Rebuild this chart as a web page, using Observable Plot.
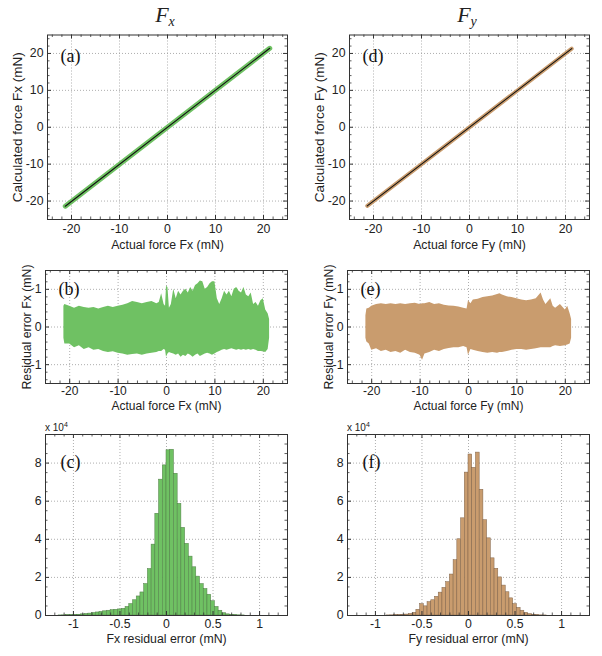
<!DOCTYPE html>
<html><head><meta charset="utf-8">
<script src="https://cdn.jsdelivr.net/npm/d3@7"></script>
<script src="https://cdn.jsdelivr.net/npm/@observablehq/plot@0.6"></script>
<style>
body{margin:0;background:#fff;}
#fig{position:relative;width:602px;height:656px;font-family:"Liberation Sans",Arial,sans-serif;color:#222;overflow:hidden;}
.p{position:absolute;}
.ttl{position:absolute;top:0;font-family:"Liberation Serif","Times New Roman",serif;font-style:italic;font-size:22px;line-height:30px;transform:translateX(-50%);white-space:nowrap;}
.ttl sub{font-size:14px;vertical-align:-4px;}
.sci{position:absolute;font-size:10px;line-height:12px;white-space:nowrap;}
.sci sup{font-size:7px;vertical-align:4px;}
</style></head><body><div id="fig"></div>
<script>
// ---------- data ----------
const colTitles = ["F", "F"], colSubs = ["x", "y"];
const tags = ["(a)", "(b)", "(c)", "(d)", "(e)", "(f)"];

// panels (a)/(d): fitted line (calculated vs actual force, mN)
const lineActual = [-21.3, 21.3];
const fxLineCalc = [-21.4, 21.4];
const fyLineCalc = [-21.3, 21.3];

// panels (b)/(e): envelope of residual error scatter (mN)
const fxResX = [-21.2,-21,-20,-19,-18,-17,-16,-15,-14,-13,-12,-11,-10,-9,-8,-7,-6,-5,-4,-3,-2,-1.5,-1,-0.5,-0.2,0,0.3,0.6,1,1.5,2,2.5,3,3.5,4,4.5,5,5.5,6,6.5,7,7.5,8,8.5,9,9.5,10,10.5,11,11.5,12,12.5,13,13.5,14,14.5,15,15.5,16,16.5,17,17.5,18,18.5,19,19.5,20,20.5,21,21.3];
const fxResHi = [0.55,0.6,0.55,0.5,0.55,0.52,0.5,0.52,0.48,0.52,0.55,0.52,0.55,0.58,0.62,0.68,0.65,0.62,0.65,0.68,0.62,0.65,0.88,0.6,0.55,1.08,1.05,0.5,0.6,1.0,0.75,0.95,0.85,0.95,1.0,0.9,1.05,0.95,1.1,1.15,1.22,1.2,1.0,1.05,1.15,1.2,1.2,0.75,0.6,0.75,0.95,0.85,0.95,0.8,1.0,1.05,0.95,0.9,1.05,0.85,0.8,0.9,0.6,0.65,0.55,0.7,0.75,0.45,0.35,0.2];
const fxResLo = [-0.3,-0.45,-0.45,-0.55,-0.5,-0.6,-0.55,-0.62,-0.6,-0.65,-0.68,-0.66,-0.7,-0.72,-0.75,-0.73,-0.72,-0.75,-0.72,-0.7,-0.68,-0.65,-0.65,-0.6,-0.62,-0.8,-0.72,-0.68,-0.7,-0.72,-0.75,-0.72,-0.8,-0.75,-0.78,-0.72,-0.75,-0.8,-0.75,-0.72,-0.78,-0.75,-0.72,-0.7,-0.72,-0.75,-0.72,-0.68,-0.65,-0.62,-0.6,-0.62,-0.6,-0.58,-0.6,-0.62,-0.6,-0.62,-0.6,-0.62,-0.6,-0.62,-0.6,-0.62,-0.65,-0.65,-0.66,-0.68,-0.6,-0.3];

const fyResX = [-21.2,-21,-20.5,-20,-19,-18,-17,-16,-15,-14,-13,-12,-11,-10,-9.5,-9,-8,-7,-6,-5,-4,-3,-2,-1,-0.3,0,0.5,1,2,3,4,5,6,6.5,7,8,9,10,11,12,13,14,15,15.5,16,17,17.5,18,19,20,20.5,21,21.3];
const fyResHi = [0.3,0.48,0.5,0.55,0.6,0.62,0.6,0.62,0.6,0.62,0.6,0.62,0.63,0.6,0.62,0.62,0.65,0.6,0.62,0.58,0.56,0.55,0.53,0.5,0.48,0.7,0.62,0.72,0.74,0.78,0.8,0.82,0.86,0.88,0.85,0.8,0.78,0.75,0.72,0.7,0.72,0.75,0.9,0.72,0.6,0.75,0.55,0.5,0.6,0.45,0.55,0.35,0.2];
const fyResLo = [-0.3,-0.4,-0.45,-0.62,-0.58,-0.65,-0.62,-0.68,-0.65,-0.7,-0.62,-0.68,-0.7,-0.75,-0.88,-0.72,-0.68,-0.62,-0.65,-0.6,-0.57,-0.55,-0.55,-0.52,-0.55,-0.75,-0.6,-0.62,-0.65,-0.68,-0.7,-0.68,-0.7,-0.68,-0.68,-0.65,-0.62,-0.6,-0.6,-0.62,-0.6,-0.58,-0.55,-0.55,-0.55,-0.55,-0.52,-0.5,-0.52,-0.5,-0.48,-0.45,-0.3];

// panels (c)/(f): histogram of residual error, counts x 10^4, bins of 0.04 mN starting at -1.20
const histStart = -1.2, histWidth = 0.04;
const fxCounts = [0,0.005,0.01,0.015,0.02,0.03,0.04,0.06,0.08,0.1,0.13,0.16,0.19,0.22,0.25,0.28,0.3,0.32,0.35,0.45,0.6,0.8,1.0,1.21,1.65,2.44,3.72,5.34,7.13,7.88,8.67,8.7,7.44,5.86,4.6,3.76,3.09,2.53,2.04,1.65,1.39,1.09,0.75,0.45,0.25,0.12,0.06,0.03,0.015,0.01,0.005,0,0,0,0,0,0,0,0,0];
const fyCounts = [0,0,0,0,0,0,0,0,0.005,0.01,0.015,0.02,0.03,0.05,0.08,0.14,0.3,0.6,0.48,0.7,0.8,0.98,1.2,1.45,1.75,2.15,2.9,4.0,5.1,7.5,8.45,7.75,8.55,6.6,5.0,4.05,3.0,2.45,2.0,1.57,1.22,0.9,0.6,0.4,0.25,0.14,0.07,0.035,0.015,0.008,0.004,0,0,0,0,0,0,0,0,0];

// axis ticks and labels
const forceTicks = [-20,-10,0,10,20];
const resTicks = [-1,0,1];
const errTicks = [-1,-0.5,0,0.5,1];
const countTicks = [0,2,4,6,8];
const xLabelsA = ["Actual force Fx (mN)", "Actual force Fy (mN)"];
const yLabelsA = ["Calculated force Fx (mN)", "Calculated force Fy (mN)"];
const yLabelsB = ["Residual error Fx (mN)", "Residual error Fy (mN)"];
const xLabelsC = ["Fx residual error (mN)", "Fy residual error (mN)"];

const GREEN = "#6fc163", TAN = "#c99c6e";
const SERIF = "Liberation Serif, Times New Roman, serif";
const SANS = "Liberation Sans, Arial, sans-serif";

// ---------- helpers ----------
const fig = document.getElementById("fig");
function panel(cfg) {
  const W = 300;
  const fw = W - cfg.mL - cfg.mR, fh = cfg.h - cfg.mT - cfg.mB;
  const ink = "#333";
  const marks = [
    Plot.gridX(cfg.xMajor, {stroke: "#999", strokeOpacity: 1, strokeDasharray: "1,2", strokeWidth: 0.8}),
    Plot.gridY(cfg.yMajor, {stroke: "#999", strokeOpacity: 1, strokeDasharray: "1,2", strokeWidth: 0.8}),
    ...cfg.marks,
    Plot.tickX(cfg.xMajor, {x: d => d, insetTop: fh - 4, stroke: ink}),
    Plot.tickX(cfg.xMajor, {x: d => d, insetBottom: fh - 4, stroke: ink}),
    Plot.tickX(cfg.xMinor, {x: d => d, insetTop: fh - 2.5, stroke: ink, strokeWidth: 0.8}),
    Plot.tickX(cfg.xMinor, {x: d => d, insetBottom: fh - 2.5, stroke: ink, strokeWidth: 0.8}),
    Plot.tickY(cfg.yMajor, {y: d => d, insetRight: fw - 4, stroke: ink}),
    Plot.tickY(cfg.yMajor, {y: d => d, insetLeft: fw - 4, stroke: ink}),
    Plot.tickY(cfg.yMinor, {y: d => d, insetRight: fw - 2.5, stroke: ink, strokeWidth: 0.8}),
    Plot.tickY(cfg.yMinor, {y: d => d, insetLeft: fw - 2.5, stroke: ink, strokeWidth: 0.8}),
    Plot.frame({stroke: ink, strokeWidth: 1}),
    Plot.axisX(cfg.xMajor, {anchor: "bottom", tickSize: 0, tickPadding: cfg.xPad, label: null, tickFormat: d => String(d), fontSize: cfg.tickSize || 12.3, fill: "#222"}),
    Plot.axisY(cfg.yMajor, {anchor: "left", tickSize: 0, tickPadding: 4, label: null, tickFormat: d => String(d), fontSize: 12.3, fill: "#222"}),
    Plot.text([cfg.xLabel], {frameAnchor: "bottom", dy: cfg.xLabelDy, text: d => d, lineAnchor: "middle", fontSize: cfg.xLabelSize || 12.3, fill: "#222", fontFamily: SANS}),
    Plot.text([cfg.tag], {frameAnchor: "top-left", dx: cfg.tagDx, dy: cfg.tagDy, text: d => d, textAnchor: "start", lineAnchor: "middle", fontSize: 18, fontFamily: SERIF, fill: "#111"})
  ];
  if (cfg.yLabel) marks.push(Plot.text([cfg.yLabel], {frameAnchor: "left", dx: cfg.yLabelDx, text: d => d, rotate: -90, textAnchor: "middle", lineAnchor: "middle", fontSize: cfg.yLabelSize, fill: "#222", fontFamily: SANS}));
  const svg = Plot.plot({
    width: W, height: cfg.h,
    marginLeft: cfg.mL, marginRight: cfg.mR, marginTop: cfg.mT, marginBottom: cfg.mB,
    x: {domain: cfg.xDomain},
    y: {domain: cfg.yDomain},
    style: {fontFamily: SANS, fontSize: "12.3px", color: "#222", background: "transparent", overflow: "visible"},
    marks
  });
  const wrap = document.createElement("div");
  wrap.className = "p";
  wrap.style.left = cfg.left + "px";
  wrap.style.top = cfg.top + "px";
  wrap.appendChild(svg);
  fig.appendChild(wrap);
}

const forceMinor = d3.range(-24, 25, 2).filter(v => v % 10 !== 0);
const resMinor = d3.range(-14, 15, 2).map(v => v / 10).filter(v => !Number.isInteger(v));
const errMinor = d3.range(-12, 13, 1).map(v => v / 10).filter(v => Math.abs(v * 2 - Math.round(v * 2)) > 1e-9);
const countMinor = d3.range(1, 19, 1).map(v => v / 2).filter(v => v % 2 !== 0);

[0, 1].forEach(c => {
  const left = c === 0 ? 0 : 302;
  const color = c === 0 ? GREEN : TAN;
  const lineCalc = c === 0 ? fxLineCalc : fyLineCalc;
  const resX = c === 0 ? fxResX : fyResX;
  const resHi = c === 0 ? fxResHi : fyResHi;
  const resLo = c === 0 ? fxResLo : fyResLo;
  const counts = c === 0 ? fxCounts : fyCounts;
  const bins = counts.map((v, i) => ({x1: histStart + i * histWidth, x2: histStart + (i + 1) * histWidth, y: v}));

  // column title
  const t = document.createElement("div");
  t.className = "ttl";
  t.style.left = (c === 0 ? 165 : 467) + "px";
  t.innerHTML = colTitles[c] + "<sub>" + colSubs[c] + "</sub>";
  fig.appendChild(t);

  // (a)/(d)
  panel({
    left, top: 0, h: 252, mL: 47, mR: 13, mT: 34.5, mB: 33,
    xDomain: [-25, 25], yDomain: [-25, 25],
    xMajor: forceTicks, yMajor: forceTicks, xMinor: forceMinor, yMinor: forceMinor,
    xPad: 5, xLabel: xLabelsA[c], xLabelDy: 25.5,
    yLabel: yLabelsA[c], yLabelDx: -30, yLabelSize: 13.5,
    tag: tags[c * 3], tagDx: 13, tagDy: 21.5,
    marks: [
      Plot.line(lineActual, {x: d => d, y: (d, i) => lineCalc[i], stroke: color, strokeWidth: c === 0 ? 5 : 4}),
      Plot.line(lineActual, {x: d => d, y: (d, i) => lineCalc[i], stroke: "#111", strokeWidth: 1.1})
    ]
  });

  // (b)/(e)
  panel({
    left, top: 252, h: 160, mL: 45, mR: 13, mT: 18, mB: 29,
    xDomain: [-25, 25], yDomain: [-1.5, 1.5],
    xMajor: forceTicks, yMajor: resTicks, xMinor: forceMinor, yMinor: resMinor,
    xPad: 3, tickSize: 12, xLabel: xLabelsA[c], xLabelDy: 22.5, xLabelSize: 12,
    yLabel: yLabelsB[c], yLabelDx: -18.5, yLabelSize: 12.3,
    tag: tags[c * 3 + 1], tagDx: 13, tagDy: 19,
    marks: [
      Plot.areaY(resX, {x: d => d, y1: (d, i) => resLo[i], y2: (d, i) => resHi[i], fill: color, fillOpacity: 1})
    ]
  });

  // (c)/(f)
  panel({
    left, top: 412, h: 244, mL: 45, mR: 13, mT: 22, mB: 41,
    xDomain: [-1.3, 1.3], yDomain: [0, 9.5],
    xMajor: errTicks, yMajor: countTicks, xMinor: errMinor, yMinor: countMinor,
    xPad: 3.5, xLabel: xLabelsC[c], xLabelDy: 23.5,
    yLabel: null,
    tag: tags[c * 3 + 2], tagDx: 15, tagDy: 28,
    marks: [
      Plot.rectY(bins.filter(b => b.y > 0), {x1: "x1", x2: "x2", y: "y", fill: color, stroke: c === 0 ? "#4f7d45" : "#7f6248", strokeWidth: 0.5})
    ]
  });

  // x 10^4 multiplier
  const s = document.createElement("div");
  s.className = "sci";
  s.style.left = (left + 45) + "px";
  s.style.top = "419px";
  s.innerHTML = "x 10<sup>4</sup>";
  fig.appendChild(s);
});
</script>
</body></html>
